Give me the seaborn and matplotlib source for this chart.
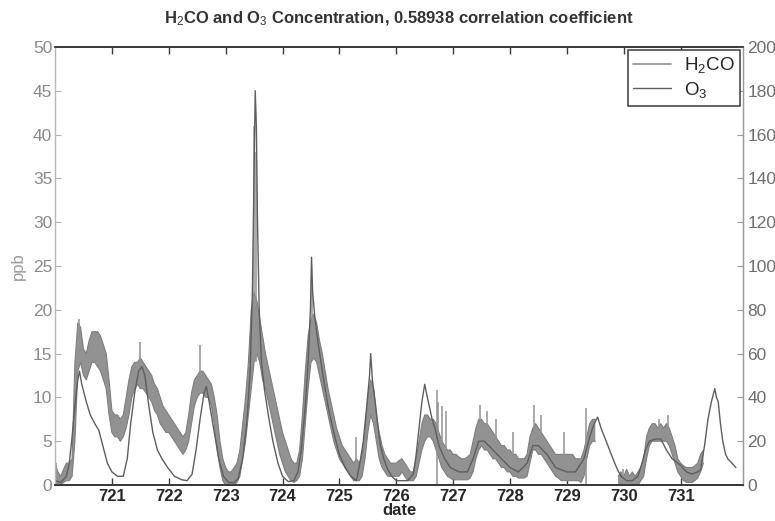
import numpy as np
import pandas as pd
import matplotlib
matplotlib.use("Agg")
import matplotlib.pyplot as plt
from matplotlib.lines import Line2D
import seaborn as sns

sns.set_style("white")
plt.rcParams["font.family"] = ["Liberation Sans", "DejaVu Sans"]
plt.rcParams["mathtext.fontset"] = "custom"
plt.rcParams["mathtext.rm"] = "Liberation Sans"
plt.rcParams["mathtext.it"] = "Liberation Sans:italic"
plt.rcParams["mathtext.bf"] = "Liberation Sans:bold"

nan = np.nan

# ---- H2CO (ppb, left axis): sampled every 0.05 day, low/high envelope of the noisy record
h2co_day = np.round(np.arange(720.0, 731.4001, 0.05), 2)
h2co_low = [
    0, 0, 0, 0.3, 0.5, 0.5, 1, 5, 13, 14, 12.5, 12, 13, 14, 14, 13.5, 13, 12, 11, 8,
    6, 5.5, 5.5, 5, 5.5, 6.5, 8, 10, 11, 11.5, 11, 11, 10.5, 10, 9.5, 8.5, 8, 7, 6.5, 6,
    6, 5.5, 5, 4.5, 4, 3.5, 4, 5, 7, 9, 10, 10.5, 10.5, 10, 10, 9, 7, 4, 2, 0.5,
    0, 0, 0, 0, 0.3, 1, 3, 5, 8, 11, 14, 15, 14, 12, 11, 9.5, 8, 6.5, 5, 3.5,
    2.5, 1.5, 1, 0.5, 0.3, 0.5, 1, 3, 7, 11, 14, 14.5, 14, 12.5, 11, 9.5, 8, 6.5, 5, 4,
    3, 2.5, 2, 1.5, 1, 0.5, 0.5, 0.5, 1, 3, 6, 8, 7, 5, 3, 2, 1.5, 1, 1, 1,
    1, 1, 1.5, 1, 0.5, 0.5, 0.5, 1, 2.5, 4, 5, 5.5, 5.5, 5, 4, 3, 2, 1.5, 1, 0.8,
    0.6, 0.6, 0.6, 0.6, 0.6, 0.6, 0.8, 1.5, 3, 4, 4.5, 4, 4, 3.5, 3, 3, 2.5, 2, 2, 1.5,
    1.5, 1, 1, 0.8, 0.8, 0.8, 1, 2.5, 4, 4, 3.5, 3.5, 3, 2.5, 2, 1.5, 1, 0.8, 0.5, 0.5,
    0.5, 0.5, 0.5, 0.5, 0.5, 0.3, 1, 3, 4.5, 5, 5, nan, nan, nan, nan, nan, nan, nan, 0, 0,
    0, 0, 0, 0, 0, 0, 0.5, 1, 3, 4.5, 5, 5, 5, 5, 5, 5, 4.5, 3.5, 2.5, 1.5,
    1, 0.5, 0.3, 0.3, 0.3, 0.5, 0.8, 1.5, 2.5,
]
h2co_high = [
    2.5, 1.5, 1, 1.8, 2.5, 2.5, 3, 14, 18.5, 18, 15.5, 15, 16.5, 17.5, 17.5, 17.5, 17, 16, 15, 12,
    8.5, 8, 8, 7.5, 8, 10, 12, 13.5, 14, 14, 14.5, 14, 13.5, 13, 12.5, 11.5, 11, 10, 9, 8.5,
    8, 7.5, 7, 6.5, 6, 5.5, 6, 8, 10.5, 12, 12.5, 13, 13, 12.5, 12, 11.5, 10, 8, 5, 3,
    2, 1.5, 1.5, 2, 2.5, 4, 7, 10, 14, 20, 22, 21, 19, 17, 15, 13.5, 12, 10.5, 9, 7.5,
    6, 5, 4, 3, 2.5, 2.5, 4, 8, 13, 17, 19, 19.5, 18.5, 16.5, 15, 13, 11, 9.5, 8, 6.5,
    5.5, 4.5, 4, 3.5, 3, 2.5, 3, 2.5, 3.5, 6, 10, 12, 11, 8, 6, 4.5, 3.5, 3, 2.5, 2.5,
    2.5, 2.8, 3, 2.5, 2, 1.5, 1.5, 3, 5, 7, 8, 8, 7.5, 7.5, 7, 6, 5, 4.5, 4, 4,
    3.5, 3.5, 3.2, 3, 3, 3.2, 3.5, 5, 6.5, 7.5, 7.5, 7, 7, 6.5, 6, 5.5, 5, 4.5, 4.5, 4,
    4, 3.5, 3.5, 3, 3, 3, 3.5, 5.5, 6.5, 7, 6.5, 6, 5.5, 5, 4.5, 4, 3.5, 3.5, 3.5, 3.5,
    3.5, 3.5, 3.5, 3, 3, 3, 4, 5.5, 7, 7.5, 7.5, nan, nan, nan, nan, nan, nan, nan, 1, 1.5,
    1, 1.8, 1, 1.5, 1, 1.5, 2, 3, 5.5, 6.5, 7, 7, 6.5, 7, 6.5, 7, 6.5, 5.5, 4.5, 3,
    2.5, 2.2, 2, 2, 2, 2.2, 2.5, 3.5, 4,
]

# isolated H2CO spikes standing out of the envelope
spike_day = [720.02, 720.42, 721.49, 722.55, 723.49, 723.53, 724.52, 725.30, 726.71,
             726.74, 726.80, 726.88, 727.48, 727.60, 727.75, 728.06, 728.42, 728.55,
             728.95, 729.33, 729.98, 730.08, 730.62, 730.77]
spike_lo = [0, 15, 13, 12, 14, 14, 17, 1, 0, 5, 4, 3, 5, 5, 4, 2, 5, 4, 2, 0, 0, 0, 5, 5]
spike_hi = [2.5, 19, 16.3, 16, 41, 38, 23, 5.5, 10.8, 9.5, 9, 8.5, 9.1, 8.5, 7.5, 6,
            9.1, 8, 6, 8.8, 1.8, 1.5, 7.5, 8]

# ---- O3 (ppb, right axis)
o3_day = [
    720.00, 720.10, 720.20, 720.25, 720.30, 720.35, 720.40, 720.43, 720.47, 720.55,
    720.62, 720.70, 720.77, 720.86, 720.92, 721.00, 721.10, 721.20, 721.27, 721.33,
    721.40, 721.47, 721.53, 721.58, 721.65, 721.72, 721.80, 721.88, 721.98, 722.10,
    722.23, 722.32, 722.41, 722.48, 722.55, 722.62, 722.66, 722.71, 722.80, 722.88,
    722.96, 723.06, 723.15, 723.22, 723.30, 723.37, 723.43, 723.47, 723.50, 723.52,
    723.54, 723.56, 723.59, 723.63, 723.68, 723.75, 723.83, 723.92, 724.00, 724.10,
    724.20, 724.27, 724.33, 724.40, 724.45, 724.49, 724.51, 724.53, 724.57, 724.63,
    724.70, 724.80, 724.90, 725.00, 725.10, 725.20, 725.30, 725.36, 725.42, 725.48,
    725.53, 725.55, 725.58, 725.63, 725.68, 725.72, 725.78, 725.85, 725.92, 726.00,
    726.10, 726.20, 726.30, 726.35, 726.40, 726.45, 726.50, 726.53, 726.58, 726.63,
    726.68, 726.75, 726.85, 726.95, 727.10, 727.25, 727.35, 727.45, 727.55, 727.70,
    727.85, 728.00, 728.15, 728.30, 728.40, 728.50, 728.65, 728.80, 729.00, 729.15,
    729.30, 729.40, 729.48, 729.54, 729.60, 729.66, 729.72, 729.78, 729.84, 729.89,
    729.95, 730.05, 730.15, 730.25, 730.32, 730.38, 730.45, 730.55, 730.65, 730.75,
    730.85, 730.95, 731.00, 731.10, 731.20, 731.30, 731.35, 731.42, 731.48, 731.54,
    731.60, 731.63, 731.66, 731.70, 731.74, 731.79, 731.83, 731.90, 731.97,
]
o3_ppb = [
    2, 1.2, 4, 10, 22, 36, 48, 52, 46, 38,
    32, 28, 25, 16, 10, 6, 4, 4, 12, 28,
    42, 52, 54, 50, 36, 24, 16, 12, 8, 4,
    2.4, 2, 5, 16, 30, 42, 45, 38, 24, 12,
    4, 1, 1.2, 3, 12, 28, 52, 88, 144, 180,
    164, 120, 80, 56, 44, 32, 20, 10, 4, 1.6,
    2, 6, 16, 36, 56, 80, 104, 88, 76, 64,
    52, 36, 24, 14, 8, 4, 2, 10, 20, 36,
    50, 60, 48, 38, 26, 18, 12, 7, 4, 2,
    2, 2, 5, 14, 26, 38, 46, 42, 36, 30,
    26, 18, 12, 8, 6, 6, 12, 20, 20, 16,
    12, 8, 6, 10, 18, 18, 14, 8, 6, 6,
    12, 22, 28, 31, 26, 22, 18, 14, 10, 7,
    4, 2, 2, 4, 10, 16, 20, 21, 21, 16,
    12, 10, 9, 6, 5, 6, 7, 18, 30, 38,
    44, 40, 38, 28, 20, 14, 12, 10, 8,
]

x_ticks = list(range(721, 732))
left_ticks = list(range(0, 51, 5))
right_ticks = list(range(0, 201, 20))

band_color = "#929292"
edge_color = "#7e7e7e"
o3_color = "#5e5e5e"
text_dark = "#262626"

fig = plt.figure(figsize=(7.75, 5.21), dpi=100)
ax = fig.add_axes([0.071, 0.069, 0.888, 0.841])
ax2 = ax.twinx()

h2co = pd.DataFrame({"day": h2co_day, "low": h2co_low, "high": h2co_high})
ax.fill_between(h2co["day"], h2co["low"], h2co["high"], color=band_color, lw=0)
ax.plot(h2co["day"], h2co["high"], color=edge_color, lw=0.8)
ax.plot(h2co["day"], h2co["low"], color=edge_color, lw=0.8)
ax.vlines(spike_day, spike_lo, spike_hi, color=band_color, lw=1.1)

o3 = pd.DataFrame({"day": o3_day, "ppb": o3_ppb})
sns.lineplot(data=o3, x="day", y="ppb", ax=ax2, color=o3_color, lw=1.0)

ax.set_xlim(720.0, 732.1)
ax.set_ylim(0, 50)
ax2.set_ylim(0, 200)

ax.set_xticks(x_ticks)
ax.set_xticklabels([str(t) for t in x_ticks], fontweight="bold", color=text_dark, fontsize=12)
ax.set_yticks(left_ticks)
ax.set_yticklabels([str(t) for t in left_ticks], color="#8a8a8a", fontsize=12.5)
ax2.set_yticks(right_ticks)
ax2.set_yticklabels([str(t) for t in right_ticks], color="#6e6e6e", fontsize=12.5)

ax.tick_params(axis="x", which="both", top=True, bottom=True, direction="in",
               length=5, width=1, color="#3a3a3a", pad=3)
ax.tick_params(axis="y", left=True, right=False, direction="in", length=4,
               width=0.8, color="#b0b0b0", pad=2)
ax2.tick_params(axis="y", right=True, left=False, direction="in", length=4,
                width=0.8, color="#9a9a9a", pad=3)

for a in (ax, ax2):
    a.spines["top"].set_color("#3a3a3a")
    a.spines["top"].set_linewidth(1.2)
    a.spines["bottom"].set_color("#3a3a3a")
    a.spines["bottom"].set_linewidth(1.4)
    a.spines["left"].set_color("#b8b8b8")
    a.spines["left"].set_linewidth(0.9)
    a.spines["right"].set_color("#9a9a9a")
    a.spines["right"].set_linewidth(0.9)

ax.set_xlabel("date", fontweight="bold", color=text_dark, fontsize=12, labelpad=-1)
ax.set_ylabel("ppb", color="#9a9a9a", fontsize=12, labelpad=5)
ax2.set_ylabel("")

fig.text(0.515, 0.963, "H$_2$CO and O$_3$ Concentration, 0.58938 correlation coefficient",
         ha="center", va="center", fontsize=12, fontweight="bold", color="#333333")

handles = [Line2D([], [], color=band_color, lw=1.2), Line2D([], [], color=o3_color, lw=1.0)]
leg = ax2.legend(handles, ["H$_2$CO", "O$_3$"], loc="upper right", fontsize=13.5,
                 frameon=True, fancybox=False, edgecolor="#3a3a3a", framealpha=1,
                 borderaxespad=0.15, handlelength=2.0, handletextpad=0.7,
                 borderpad=0.3, labelspacing=0.25)
leg.get_frame().set_linewidth(1.1)
for t in leg.get_texts():
    t.set_color(text_dark)

fig.savefig("out.png", dpi=100, facecolor="white")
